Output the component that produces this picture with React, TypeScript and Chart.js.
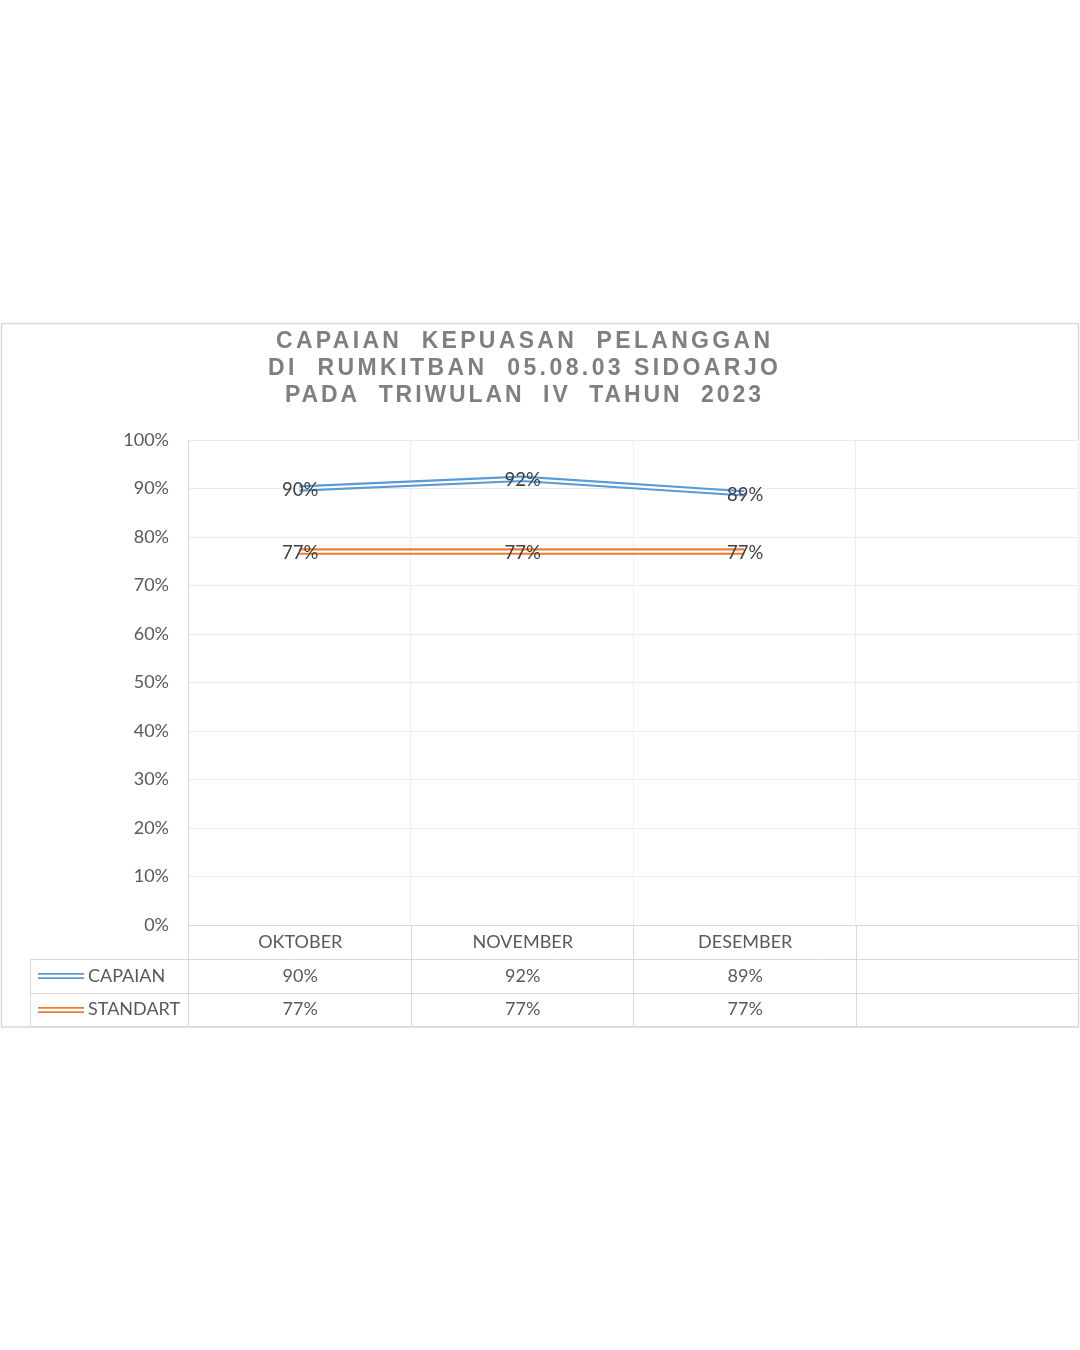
import React, { useEffect, useRef } from 'react';
import { Chart, registerables } from 'chart.js';

Chart.register(...registerables);

const TITLE_LINES = [
  'CAPAIAN  KEPUASAN  PELANGGAN',
  'DI  RUMKITBAN  05.08.03 SIDOARJO',
  'PADA  TRIWULAN  IV  TAHUN  2023',
];
const TITLE_WIDTHS = [494, 510, 476];
const CATEGORIES = ['OKTOBER', 'NOVEMBER', 'DESEMBER', ''];
const SERIES_NAMES = ['CAPAIAN', 'STANDART'];
const CAPAIAN = [90, 92, 89, null];
const STANDART = [77, 77, 77, null];
const SERIES_COLORS = ['#5b9bd5', '#ed7d31'];
const Y_MIN = 0;
const Y_MAX = 100;
const Y_STEP = 10;

const FONT = 'Lato, "Open Sans", sans-serif';
const TITLE_FONT = '"Liberation Sans", Arial, sans-serif';
const TEXT = '#595959';
const GRID = '#d9d9d9';

const fmt = (v: number | null) => (v == null ? '' : `${v}%`);

const decorPlugin = {
  id: 'decor',
  beforeDraw(chart: any) {
    const ctx = chart.ctx as CanvasRenderingContext2D;
    ctx.save();
    ctx.fillStyle = '#ffffff';
    ctx.fillRect(0, 0, chart.width, chart.height);
    ctx.strokeStyle = GRID;
    ctx.lineWidth = 1.5;
    ctx.strokeRect(1.5, 323.5, 1077, 703.5);
    ctx.fillStyle = '#7f7f7f';
    ctx.font = `bold 23px ${TITLE_FONT}`;
    ctx.textBaseline = 'middle';
    ctx.textAlign = 'left';
    TITLE_LINES.forEach((line, i) => {
      (ctx as any).letterSpacing = '0px';
      const w = ctx.measureText(line).width;
      const sp = (TITLE_WIDTHS[i] - w) / (line.length - 1);
      (ctx as any).letterSpacing = `${sp}px`;
      ctx.fillText(line, 523 - TITLE_WIDTHS[i] / 2, 342 + i * 27);
    });
    ctx.restore();
  },
  afterDatasetsDraw(chart: any) {
    const ctx = chart.ctx as CanvasRenderingContext2D;
    ctx.save();
    chart.data.datasets.forEach((ds: any, di: number) => {
      const meta = chart.getDatasetMeta(di);
      ctx.beginPath();
      let started = false;
      meta.data.forEach((pt: any, i: number) => {
        if (ds.data[i] == null) return;
        if (!started) { ctx.moveTo(pt.x, pt.y); started = true; }
        else ctx.lineTo(pt.x, pt.y);
      });
      ctx.strokeStyle = '#ffffff';
      ctx.lineWidth = 2.2;
      ctx.lineJoin = 'round';
      ctx.stroke();
    });
    ctx.fillStyle = '#404040';
    ctx.font = `18.5px ${FONT}`;
    ctx.textAlign = 'center';
    ctx.textBaseline = 'middle';
    chart.data.datasets.forEach((ds: any, di: number) => {
      const meta = chart.getDatasetMeta(di);
      meta.data.forEach((pt: any, i: number) => {
        if (ds.data[i] == null) return;
        ctx.fillText(fmt(ds.data[i]), pt.x + 1, pt.y + 1.5);
      });
    });
    ctx.restore();
  },
  afterDraw(chart: any) {
    const ctx = chart.ctx as CanvasRenderingContext2D;
    const area = chart.chartArea;
    const xs = chart.scales.x;
    const n = CATEGORIES.length;
    const colW = (area.right - area.left) / n;
    const top = area.bottom;
    const rowH = 33.8;
    const legendLeft = 30.5;
    ctx.save();
    ctx.strokeStyle = GRID;
    ctx.lineWidth = 1;
    for (let i = 0; i <= n; i++) {
      const x = Math.round(area.left + i * colW) + 0.5;
      ctx.beginPath();
      ctx.moveTo(x, top);
      ctx.lineTo(x, top + rowH * 3);
      ctx.stroke();
    }
    ctx.beginPath();
    ctx.moveTo(legendLeft, top + rowH);
    ctx.lineTo(legendLeft, top + rowH * 3);
    ctx.stroke();
    for (let r = 1; r <= 3; r++) {
      const y = Math.round(top + rowH * r) + 0.5;
      ctx.beginPath();
      ctx.moveTo(legendLeft, y);
      ctx.lineTo(area.right, y);
      ctx.stroke();
    }
    ctx.font = `18px ${FONT}`;
    ctx.fillStyle = TEXT;
    ctx.textBaseline = 'middle';
    ctx.textAlign = 'center';
    CATEGORIES.forEach((c, i) => {
      const x = xs.getPixelForValue(i);
      ctx.fillText(c, x + 1, top + rowH * 0.5);
    });
    const series = [CAPAIAN, STANDART];
    series.forEach((vals, si) => {
      const y = top + rowH * (si + 1.5);
      vals.forEach((v, i) => {
        const x = xs.getPixelForValue(i);
        ctx.textAlign = 'center';
        ctx.fillText(fmt(v), x + 1, y);
      });
      ctx.strokeStyle = SERIES_COLORS[si];
      ctx.lineWidth = 1.8;
      const ky = Math.round(y);
      ctx.beginPath();
      ctx.moveTo(38, ky - 2.2);
      ctx.lineTo(84, ky - 2.2);
      ctx.moveTo(38, ky + 2.2);
      ctx.lineTo(84, ky + 2.2);
      ctx.stroke();
      ctx.textAlign = 'left';
      ctx.fillStyle = TEXT;
      ctx.fillText(SERIES_NAMES[si], 88, y);
    });
    ctx.restore();
  },
};

export default function App() {
  const ref = useRef<HTMLCanvasElement | null>(null);
  useEffect(() => {
    if (!ref.current) return;
    const chart = new Chart(ref.current, {
      type: 'line',
      data: {
        labels: CATEGORIES,
        datasets: [
          {
            label: SERIES_NAMES[0],
            data: CAPAIAN,
            borderColor: SERIES_COLORS[0],
            backgroundColor: SERIES_COLORS[0],
            borderWidth: 6.4,
            pointRadius: 0,
            tension: 0,
            spanGaps: false,
          },
          {
            label: SERIES_NAMES[1],
            data: STANDART,
            borderColor: SERIES_COLORS[1],
            backgroundColor: SERIES_COLORS[1],
            borderWidth: 6.4,
            pointRadius: 0,
            tension: 0,
            spanGaps: false,
          },
        ],
      },
      options: {
        responsive: false,
        animation: false,
        layout: { padding: { top: 440, bottom: 425, left: 0, right: 2 } },
        plugins: {
          legend: { display: false },
          title: { display: false },
          tooltip: { enabled: false },
        },
        scales: {
          x: {
            offset: true,
            grid: { offset: true, color: '#efefef', drawTicks: false },
            border: { color: GRID },
            ticks: { display: false },
            afterFit: (s: any) => { s.height = 0; },
          },
          y: {
            min: Y_MIN,
            max: Y_MAX,
            grid: { color: '#ebebeb', drawTicks: false },
            border: { color: GRID },
            ticks: {
              stepSize: Y_STEP,
              padding: 19,
              color: TEXT,
              font: { family: FONT, size: 18 },
              callback: (v: any) => `${v}%`,
            },
            afterFit: (s: any) => { s.width = 188; },
          },
        },
      },
      plugins: [decorPlugin],
    });
    return () => chart.destroy();
  }, []);
  return (
    <div style={{ position: 'absolute', left: 0, top: 0, width: 1080, height: 1350 }}>
      <canvas ref={ref} width={1080} height={1350} style={{ display: 'block' }} />
    </div>
  );
}
